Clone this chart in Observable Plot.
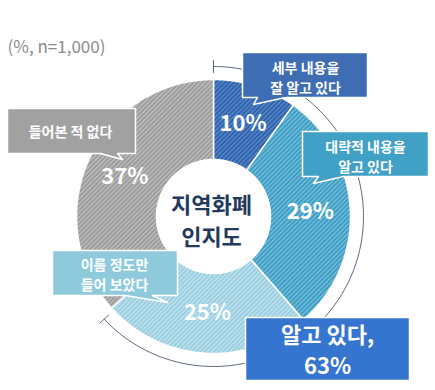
<!DOCTYPE html>
<html><head><meta charset="utf-8">
<script src="https://cdn.jsdelivr.net/npm/d3@7"></script>
<script src="https://cdn.jsdelivr.net/npm/@observablehq/plot@0.6"></script>
<style>body{margin:0;background:#fff}</style>
</head><body><div id="chart"></div>
<script>
// ---- data ----
const categories = ["세부 내용을 잘 알고 있다", "대략적 내용을 알고 있다", "이름 정도만 들어 보았다", "들어본 적 없다"];
const values = [10, 29, 25, 37];
const calloutLines = [["세부 내용을", "잘 알고 있다"], ["대략적 내용을", "알고 있다"], ["이름 정도만", "들어 보았다"], ["들어본 적 없다"]];
const knowTotal = 63;
const knowLines = ["알고 있다,", knowTotal + "%"];
const centerLines = ["지역화폐", "인지도"];
const note = "(%, n=1,000)";

// ---- layout / style ----
const W = 435, H = 390, cx = 213, cy = 216, r0 = 57, r1 = 137, rArc = 150, rLabel = 97;
const FONT = "'Noto Sans CJK KR', 'Noto Sans', sans-serif";
const patterns = [
  {base: "#2f61ab", stripe: "#5788c9"},
  {base: "#3b9bc2", stripe: "#74bedb"},
  {base: "#98cde0", stripe: "#c0e2ed"},
  {base: "#9a9a9a", stripe: "#bebebe"}
];
const boxColors = ["#3e6db4", "#41a0c6", "#8fcadc", "#a1a1a1"];
// callout shapes (pixel layout): rect + tail [baseA, tip, baseB]
const boxes = [
  {x0: 242, y0: 52, x1: 367, y1: 97, tail: [[285, 97], [253, 104], [257, 97]], ty: 76, tx: 305},
  {x0: 302, y0: 131, x1: 428, y1: 176, tail: [[343, 176], [313, 183], [318, 176]], ty: 155, tx: 365},
  {x0: 52, y0: 250, x1: 177, y1: 295, tail: [[152, 295], [167, 302], [125, 295]], ty: 273, tx: 114},
  {x0: 7, y0: 108, x1: 135, y1: 153, tail: [[117, 153], [122, 159], [100, 153]], ty: 130, tx: 70}
];
const knowBox = {x0: 245, y0: 317, x1: 409, y1: 380, color: "#3675cf", ty: 348, tx: 327};

// ---- geometry from data ----
const arcs = d3.pie().sort(null).value(d => d)(values);
const pt = (r, a) => ({x: cx + r * Math.sin(a), y: cy - r * Math.cos(a)});
function slicePolygon(a0, a1, i) {
  const n = 80, pts = [];
  for (let k = 0; k <= n; k++) pts.push({...pt(r1, a0 + (a1 - a0) * k / n), i});
  for (let k = n; k >= 0; k--) pts.push({...pt(r0, a0 + (a1 - a0) * k / n), i});
  return pts;
}
const slices = arcs.map((a, i) => slicePolygon(a.startAngle, a.endAngle, i));
const labelPts = arcs.map((a, i) => ({...pt(rLabel, (a.startAngle + a.endAngle) / 2), text: values[i] + "%"}));

const knowEnd = 2 * Math.PI * knowTotal / 100;
const arcPts = d3.range(0, 201).map(k => pt(rArc, knowEnd * k / 200));
const ticks = [0, knowEnd].map(a => [pt(rArc - 6, a), pt(rArc + 6, a)]);

function boxPolygon(b) {
  const p = [[b.x0, b.y0], [b.x1, b.y0], [b.x1, b.y1]];
  if (b.tail) p.push(...b.tail);
  p.push([b.x0, b.y1]);
  return p.map(([x, y]) => ({x, y}));
}

const marks = [];
slices.forEach((s, i) => marks.push(Plot.line(s, {x: "x", y: "y", curve: "linear-closed", fill: `url(#hatch${i})`, stroke: "white", strokeWidth: 1.5})));
marks.push(Plot.line(arcPts, {x: "x", y: "y", stroke: "#5a6780", strokeWidth: 1}));
ticks.forEach(t => marks.push(Plot.line(t, {x: "x", y: "y", stroke: "#5a6780", strokeWidth: 1})));
marks.push(Plot.text(labelPts, {x: "x", y: "y", text: "text", fill: "white", fontSize: 22, fontWeight: "bold", fontFamily: FONT}));
boxes.forEach((b, i) => {
  marks.push(Plot.line(boxPolygon(b), {x: "x", y: "y", curve: "linear-closed", fill: boxColors[i], stroke: "white", strokeWidth: 1.5}));
  marks.push(Plot.text([{t: calloutLines[i].join("\n"), x: b.tx, y: b.ty}], {x: "x", y: "y", text: "t", lineHeight: 1.47, fill: "white", fontSize: 14, fontWeight: "bold", fontFamily: FONT}));
});
marks.push(Plot.line(boxPolygon(knowBox), {x: "x", y: "y", curve: "linear-closed", fill: knowBox.color, stroke: "white", strokeWidth: 1.5}));
marks.push(Plot.text([{t: knowLines.join("\n"), x: knowBox.tx, y: knowBox.ty}], {x: "x", y: "y", text: "t", lineHeight: 1.4, fill: "white", fontSize: 22, fontWeight: "bold", fontFamily: FONT}));
marks.push(Plot.text([{t: centerLines.join("\n"), x: cx - 2, y: cy + 2}], {x: "x", y: "y", text: "t", lineHeight: 1.45, fill: "#23395d", fontSize: 22, fontWeight: "bold", fontFamily: FONT}));
marks.push(Plot.text([{t: note, x: 7, y: 47}], {x: "x", y: "y", text: "t", textAnchor: "start", fill: "#8c8c8c", fontSize: 17, fontFamily: FONT}));

const chart = Plot.plot({
  width: W, height: H, margin: 0,
  x: {domain: [0, W], range: [0, W], axis: null},
  y: {domain: [0, H], range: [0, H], axis: null},
  style: {background: "white"},
  marks
});
const defs = d3.select(chart).insert("defs", ":first-child");
patterns.forEach((p, i) => {
  const pat = defs.append("pattern").attr("id", `hatch${i}`).attr("patternUnits", "userSpaceOnUse")
    .attr("width", 3.2).attr("height", 3.2).attr("patternTransform", "rotate(45)");
  pat.append("rect").attr("width", 3.2).attr("height", 3.2).attr("fill", p.base);
  pat.append("rect").attr("width", 1.4).attr("height", 3.2).attr("fill", p.stripe);
});
document.getElementById("chart").appendChild(chart);
</script>
</body></html>
